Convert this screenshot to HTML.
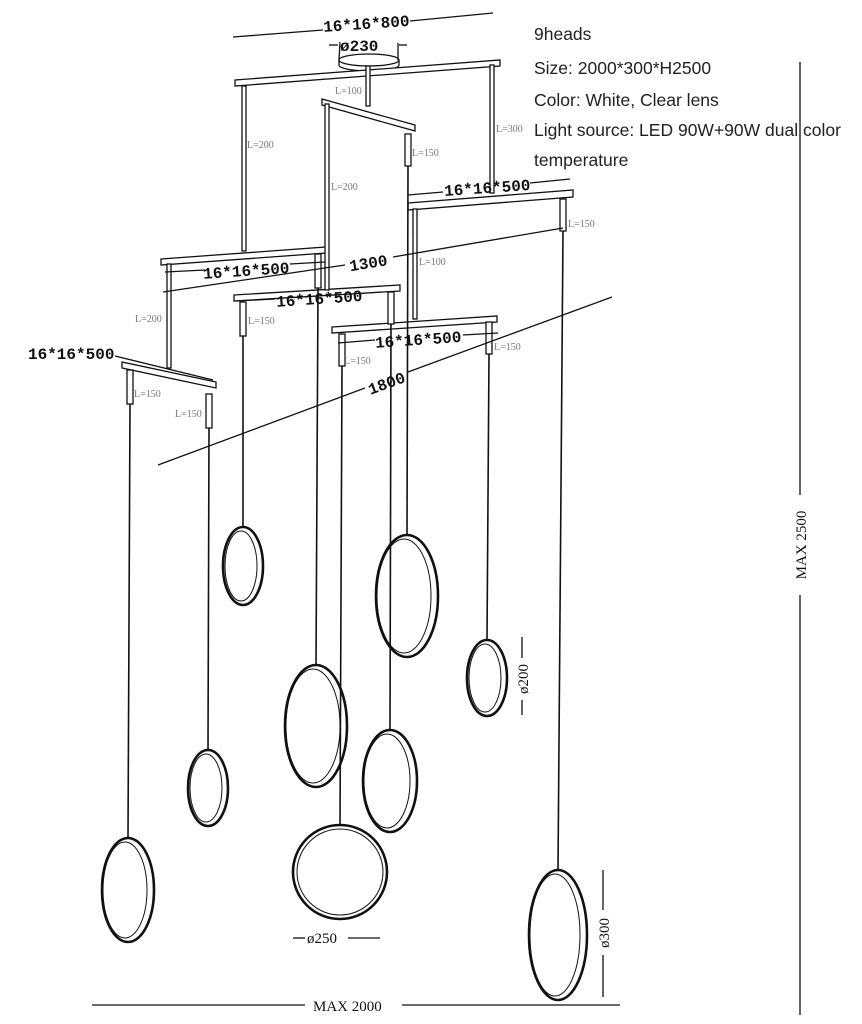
<!DOCTYPE html>
<html><head><meta charset="utf-8"><style>
html,body{margin:0;padding:0;background:#fff}
svg{display:block}
.t{font-family:"Liberation Sans",sans-serif;font-size:17.5px;fill:#222}
.d{font-family:"Liberation Mono",monospace;font-weight:bold;font-size:16px;fill:#111}
.l{font-family:"Liberation Serif",serif;font-size:10px;fill:#777}
.s{font-family:"Liberation Serif",serif;font-size:15px;fill:#111}
</style></head><body>
<svg width="862" height="1024" viewBox="0 0 862 1024" xmlns="http://www.w3.org/2000/svg">
<g fill="none" stroke="#111" stroke-width="1.3">
<ellipse cx="369" cy="60" rx="30" ry="6" fill="#fff"/>
<path d="M339 60v5a30 6 0 0 0 60 0v-5"/>
<line x1="233" y1="37" x2="323" y2="30"/><line x1="410" y1="21" x2="493" y2="13"/>
<line x1="329" y1="45" x2="338" y2="45"/><line x1="399" y1="45" x2="407" y2="45"/>
<line x1="340" y1="42" x2="339" y2="60"/><line x1="398" y1="43" x2="398" y2="60"/>
<polygon points="235,80 500,60 500,66 235,86" fill="#fff"/>
<polygon points="322,99 415,125 415,131 322,105" fill="#fff"/>
<polygon points="408,203 573,190 573,197 408,210" fill="#fff"/>
<polygon points="161,259 326,247 326,253 161,265" fill="#fff"/>
<polygon points="234,295 400,285 400,291 234,301" fill="#fff"/>
<polygon points="332,327 497,316 497,322 332,333" fill="#fff"/>
<polygon points="122,362 216,382 216,388 122,368" fill="#fff"/>
<rect x="242" y="86" width="4" height="165" fill="#fff"/>
<rect x="366" y="66" width="4" height="40" fill="#fff"/>
<rect x="490" y="65" width="4" height="128" fill="#fff"/>
<rect x="325" y="104" width="4" height="186" fill="#fff"/>
<rect x="413" y="209" width="4" height="110" fill="#fff"/>
<rect x="167" y="264" width="4" height="104" fill="#fff"/>
<rect x="405" y="134" width="6" height="32" fill="#fff"/>
<rect x="560" y="199" width="6" height="32" fill="#fff"/>
<rect x="315" y="254" width="6" height="34" fill="#fff"/>
<rect x="240" y="302" width="6" height="34" fill="#fff"/>
<rect x="388" y="292" width="6" height="32" fill="#fff"/>
<rect x="339" y="334" width="6" height="32" fill="#fff"/>
<rect x="486" y="322" width="6" height="32" fill="#fff"/>
<rect x="127" y="370" width="6" height="34" fill="#fff"/>
<rect x="206" y="394" width="6" height="34" fill="#fff"/>
<g stroke-width="1.6">
<line x1="408" y1="166" x2="407" y2="535"/>
<line x1="563" y1="231" x2="558" y2="870"/>
<line x1="318" y1="288" x2="316" y2="665"/>
<line x1="243" y1="336" x2="243" y2="527"/>
<line x1="391" y1="324" x2="390" y2="730"/>
<line x1="342" y1="366" x2="340" y2="825"/>
<line x1="489" y1="354" x2="487" y2="640"/>
<line x1="130" y1="404" x2="128" y2="838"/>
<line x1="209" y1="428" x2="208" y2="750"/>
</g>
<g stroke-width="2.6">
<ellipse cx="243" cy="566" rx="20" ry="39"/><ellipse cx="241" cy="566" rx="16" ry="35" stroke-width="1"/>
<ellipse cx="407" cy="596" rx="31" ry="61"/><ellipse cx="404" cy="596" rx="27" ry="57" stroke-width="1"/>
<ellipse cx="316" cy="726" rx="31" ry="61"/><ellipse cx="313" cy="726" rx="27" ry="57" stroke-width="1"/>
<ellipse cx="208" cy="788" rx="20" ry="38"/><ellipse cx="206" cy="788" rx="16" ry="34" stroke-width="1"/>
<ellipse cx="390" cy="781" rx="27" ry="51"/><ellipse cx="387" cy="781" rx="23" ry="47" stroke-width="1"/>
<ellipse cx="487" cy="678" rx="20" ry="38"/><ellipse cx="485" cy="678" rx="16" ry="34" stroke-width="1"/>
<circle cx="340" cy="872" r="47"/><circle cx="340" cy="872" r="43" stroke-width="1"/>
<ellipse cx="128" cy="890" rx="26" ry="52"/><ellipse cx="125" cy="890" rx="22" ry="48" stroke-width="1"/>
<ellipse cx="558" cy="935" rx="29" ry="65"/><ellipse cx="555" cy="935" rx="25" ry="61" stroke-width="1"/>
</g>
<line x1="163" y1="292" x2="345" y2="265"/><line x1="393" y1="257" x2="563" y2="228"/>
<line x1="158" y1="465" x2="365" y2="388"/><line x1="408" y1="372" x2="612" y2="297"/>
<line x1="165" y1="272" x2="205" y2="270"/><line x1="290" y1="264" x2="325" y2="262"/>
<line x1="236" y1="301" x2="275" y2="299"/>
<line x1="338" y1="343" x2="375" y2="340"/><line x1="463" y1="335" x2="498" y2="333"/>
<line x1="408" y1="195" x2="443" y2="192"/><line x1="530" y1="183" x2="570" y2="179"/>
<line x1="115" y1="356" x2="213" y2="380"/>
<line x1="92" y1="1005" x2="305" y2="1005"/><line x1="402" y1="1005" x2="620" y2="1005"/>
<line x1="800" y1="62" x2="800" y2="495"/><line x1="800" y1="595" x2="800" y2="1015"/>
<line x1="522" y1="637" x2="522" y2="658"/><line x1="522" y1="700" x2="522" y2="715"/>
<line x1="603" y1="870" x2="603" y2="910"/><line x1="603" y1="955" x2="603" y2="997"/>
<line x1="293" y1="938" x2="305" y2="938"/><line x1="348" y1="938" x2="380" y2="938"/>
</g>
<text class="d" x="323" y="29" transform="rotate(-4 365 22)">16*16*800</text>
<text class="d" x="340" y="51">ø230</text>
<text class="d" x="444" y="193" transform="rotate(-4 487 187)">16*16*500</text>
<text class="d" x="203" y="276" transform="rotate(-4 245 270)">16*16*500</text>
<text class="d" x="276" y="304" transform="rotate(-4 318 298)">16*16*500</text>
<text class="d" x="375" y="345" transform="rotate(-4 417 340)">16*16*500</text>
<text class="d" x="28" y="359">16*16*500</text>
<text class="d" x="349" y="268" transform="rotate(-9 370 262)">1300</text>
<text class="d" x="367" y="388" transform="rotate(-20 388 382)">1800</text>
<text class="s" x="313" y="1011">MAX 2000</text>
<text class="s" x="307" y="943">ø250</text>
<text class="s" transform="translate(806 545) rotate(-90)" text-anchor="middle">MAX 2500</text>
<text class="s" transform="translate(528 679) rotate(-90)" text-anchor="middle">ø200</text>
<text class="s" transform="translate(609 933) rotate(-90)" text-anchor="middle">ø300</text>
<text class="l" x="335" y="94">L=100</text>
<text class="l" x="247" y="148">L=200</text>
<text class="l" x="331" y="190">L=200</text>
<text class="l" x="496" y="132">L=300</text>
<text class="l" x="412" y="156">L=150</text>
<text class="l" x="568" y="227">L=150</text>
<text class="l" x="419" y="265">L=100</text>
<text class="l" x="135" y="322">L=200</text>
<text class="l" x="248" y="324">L=150</text>
<text class="l" x="344" y="364">L=150</text>
<text class="l" x="494" y="350">L=150</text>
<text class="l" x="134" y="397">L=150</text>
<text class="l" x="175" y="417">L=150</text>
<text class="t" x="534" y="40">9heads</text>
<text class="t" x="534" y="74">Size: 2000*300*H2500</text>
<text class="t" x="534" y="106">Color: White, Clear lens</text>
<text class="t" x="534" y="136">Light source: LED 90W+90W dual color</text>
<text class="t" x="534" y="166">temperature</text>
</svg>
</body></html>
